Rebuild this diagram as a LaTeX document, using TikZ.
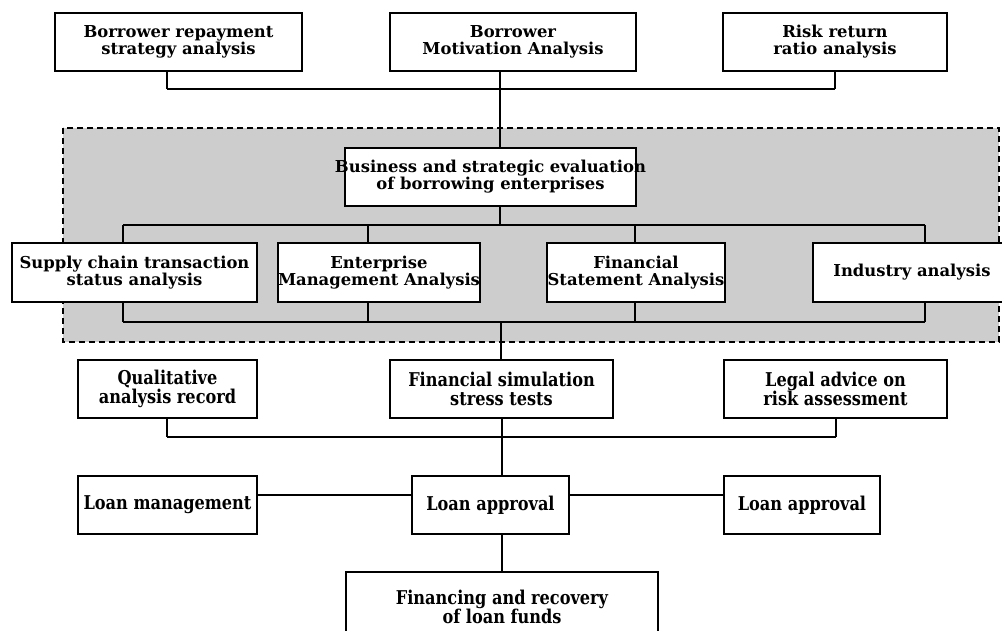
\documentclass[tikz,border=0pt]{standalone}
\usepackage{fontspec}
\setmainfont{DejaVu Serif}
\newfontfamily\condfont[FakeStretch=0.85]{DejaVu Serif}
\newcommand\mybx[6]{%
  \node[frame, minimum width=#3, minimum height=#4] (#1) at (#2) {};
  \node[#5] at (#1.center) {#6};}
\begin{document}
\begin{tikzpicture}[x=1pt,y=-1pt,
  frame/.style={draw, line width=1.3pt, fill=white, inner sep=0pt},
  txt/.style={inner sep=0pt, align=center, font=\fontsize{16.4}{17}\selectfont\bfseries},
  ctxt/.style={inner sep=0pt, align=center, font=\condfont\fontsize{19}{18.5}\selectfont\bfseries},
  conn/.style={line width=1.3pt}]
\useasboundingbox (0,0) rectangle (1002,630);
\fill[white] (0,0) rectangle (1002,630);
% dashed region
\draw[fill={rgb,255:red,205;green,205;blue,205}, line width=1.2pt, dash pattern=on 6pt off 4pt] (63,128) rectangle (999,342);
% coordinates
\coordinate (j1) at (167,89); \coordinate (j2) at (500,89); \coordinate (j3) at (835,89);
\coordinate (t1) at (123,225); \coordinate (t2) at (368,225); \coordinate (t0) at (500,225);
\coordinate (t3) at (635,225); \coordinate (t4) at (925,225);
\coordinate (b1) at (123,322); \coordinate (b2) at (368,322); \coordinate (b0) at (501,322);
\coordinate (b3) at (635,322); \coordinate (b4) at (925,322);
\coordinate (q1) at (167,437); \coordinate (q0) at (502,437); \coordinate (q3) at (836,437);
\coordinate (hh) at (300,495); \coordinate (v0) at (502,550);
% connectors (drawn first, under boxes)
\begin{scope}[conn]
\draw (j1) -- (j3);
\draw (j2) -- (t0);
\draw (t1) -- (t4);
\draw (t1) -- (b1); \draw (t2) -- (b2); \draw (t3) -- (b3); \draw (t4) -- (b4);
\draw (b1) -- (b4);
\draw (b0) -- (q0);
\draw (q1) -- (q3);
\draw (q0) -- (502,476);
\end{scope}
% top row
\mybx{A}{178.5,42}{247pt}{58pt}{txt}{Borrower repayment\\strategy analysis}
\mybx{B}{513,42}{246pt}{58pt}{txt}{Borrower\\Motivation Analysis}
\mybx{C}{835,42}{224pt}{58pt}{txt}{Risk return\\ratio analysis}
\mybx{BS}{490.5,177}{291pt}{58pt}{txt}{Business and strategic evaluation\\of borrowing enterprises}
% second row
\mybx{SC}{134.5,272.5}{245pt}{59pt}{txt}{Supply chain transaction\\status analysis}
\mybx{EM}{379,272.5}{202pt}{59pt}{txt}{Enterprise\\Management Analysis}
\mybx{FA}{636,272.5}{178pt}{59pt}{txt}{Financial\\Statement Analysis}
\mybx{IA}{912,272.5}{198pt}{59pt}{txt}{Industry analysis}
% third row
\mybx{QA}{167.5,389}{179pt}{58pt}{ctxt}{Qualitative\\analysis record}
\mybx{FS}{501.5,389}{223pt}{58pt}{ctxt}{Financial simulation\\stress tests}
\mybx{LG}{835.5,389}{223pt}{58pt}{ctxt}{Legal advice on\\risk assessment}
% fourth row
\mybx{LM}{167.5,505}{179pt}{58pt}{ctxt}{Loan management}
\mybx{LA}{490.5,505}{157pt}{58pt}{ctxt}{Loan approval}
\mybx{LB}{802,505}{156pt}{58pt}{ctxt}{Loan approval}
% fifth row
\mybx{FR}{502,607}{312pt}{70pt}{ctxt}{Financing and recovery\\of loan funds}
% connectors between named nodes
\begin{scope}[conn]
\draw (A.south -| j1) -- (j1);
\draw (C.south -| j3) -- (j3);
\draw (B.south -| j2) -- (BS.north -| j2);
\draw (BS.south -| t0) -- (t0);
\draw (SC.north -| t1) -- (t1); \draw (EM.north -| t2) -- (t2);
\draw (FA.north -| t3) -- (t3); \draw (IA.north -| t4) -- (t4);
\draw (SC.south -| b1) -- (b1); \draw (EM.south -| b2) -- (b2);
\draw (FA.south -| b3) -- (b3); \draw (IA.south -| b4) -- (b4);
\draw (FS.north -| b0) -- (b0);
\draw (QA.south -| q1) -- (q1);
\draw (LG.south -| q3) -- (q3);
\draw (FS.south -| q0) -- (LA.north -| q0);
\draw (LM.east |- hh) -- (LA.west |- hh);
\draw (LA.east |- hh) -- (LB.west |- hh);
\draw (LA.south -| v0) -- (FR.north -| v0);
\end{scope}
\end{tikzpicture}
\end{document}
